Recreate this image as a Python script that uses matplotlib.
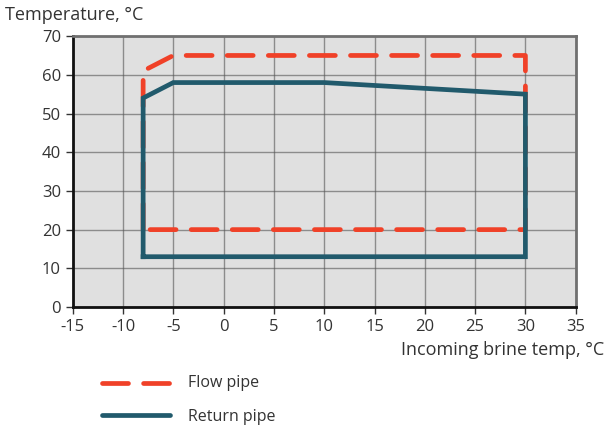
import matplotlib.pyplot as plt
from matplotlib.lines import Line2D

plt.rcParams['font.family'] = ['Open Sans', 'DejaVu Sans']
plt.rcParams['axes.unicode_minus'] = False

flow_x = [-8, -8, -5, 30, 30, -8]
flow_y = [20, 61, 65, 65, 20, 20]
ret_x = [-8, -8, -5, 10, 30, 30, -8]
ret_y = [13, 54, 58, 58, 55, 13, 13]

x_ticks = list(range(-15, 40, 5))
y_ticks = list(range(0, 80, 10))

red = "#f04128"
teal = "#215a6c"

fig = plt.figure(figsize=(6.06, 4.30), dpi=100)
ax = fig.add_axes([0.120, 0.286, 0.830, 0.630])
ax.set_facecolor("#e0e0e0")

ax.plot(flow_x, flow_y, color=red, linewidth=3.4, dashes=(5.5, 3.2),
        dash_capstyle="round", zorder=3)
ax.plot(ret_x, ret_y, color=teal, linewidth=3.4, solid_joinstyle="miter", zorder=4)

ax.set_xlim(-15, 35)
ax.set_ylim(0, 70)
ax.set_xticks(x_ticks)
ax.set_yticks(y_ticks)
ax.tick_params(labelsize=12, length=5, width=1, color="#333333", labelcolor="#333333")
ax.grid(color="#555555", linewidth=1, alpha=0.6)
ax.set_axisbelow(True)

for s in ["left", "bottom"]:
    ax.spines[s].set_linewidth(2)
    ax.spines[s].set_color("#111111")
for s in ["top", "right"]:
    ax.spines[s].set_linewidth(2)
    ax.spines[s].set_color("#707070")

fig.text(0.008, 0.965, "Temperature, °C", fontsize=13, color="#333333", va="center")
fig.text(0.997, 0.187, "Incoming brine temp, °C", fontsize=13, color="#333333",
         ha="right", va="center")

# legend drawn by hand under the chart
fig.add_artist(Line2D([0.168, 0.280], [0.110, 0.110], color=red, linewidth=3.4,
                      dashes=(5.5, 3.2), dash_capstyle="round"))
fig.add_artist(Line2D([0.168, 0.280], [0.035, 0.035], color=teal, linewidth=3.4,
                      solid_capstyle="round"))
fig.text(0.310, 0.110, "Flow pipe", fontsize=11.5, color="#333333", va="center")
fig.text(0.310, 0.030, "Return pipe", fontsize=11.5, color="#333333", va="center")

plt.savefig("out.png")
